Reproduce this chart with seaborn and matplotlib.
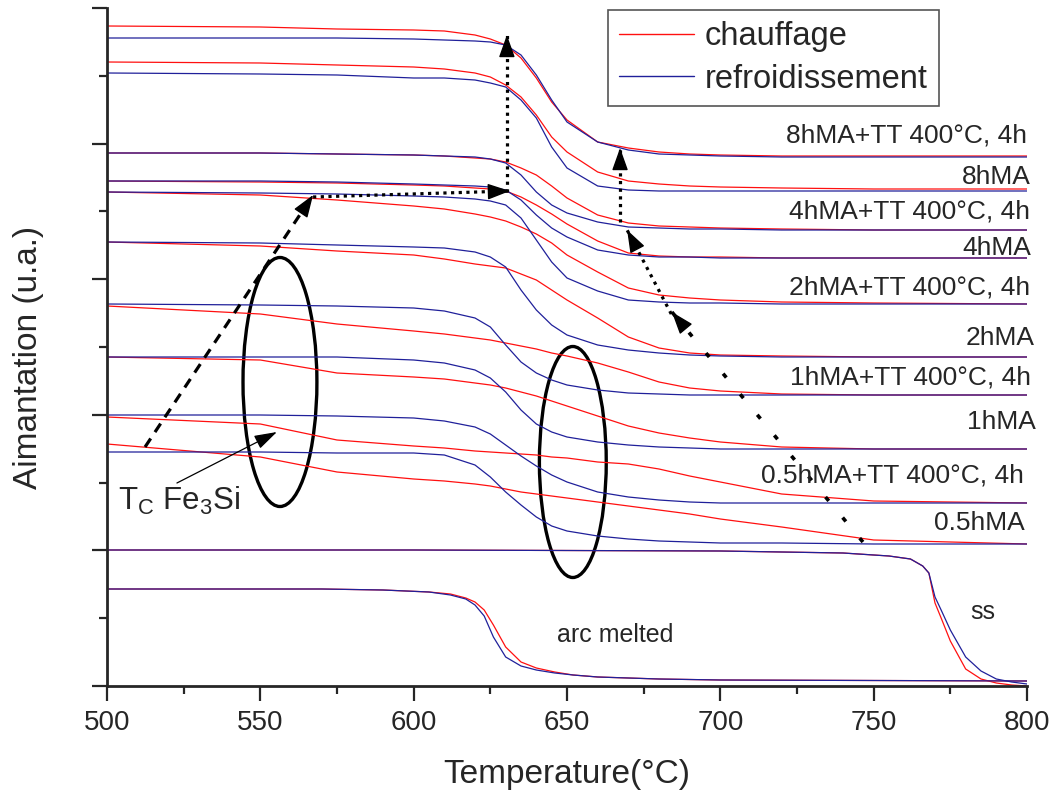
import numpy as np
import pandas as pd
import matplotlib
matplotlib.use("Agg")
import matplotlib.pyplot as plt
from matplotlib.lines import Line2D
from matplotlib.patches import Ellipse
import seaborn as sns

# temperature grid (°C) used for the milled samples
temp = [500, 550, 575, 600, 610, 620, 625, 630, 635, 640, 645, 650, 660, 670, 680, 690, 700, 720, 750, 800]

# magnetisation (u.a.): heating (chauffage) / cooling (refroidissement)
heat_8tt = [660, 659, 657, 656, 655, 651, 647, 641, 628, 608, 584, 566, 544, 538, 534, 532, 531, 530, 530, 530]
cool_8tt = [648, 648, 648, 647, 646, 645, 644, 641, 631, 611, 586, 564, 544, 536, 532, 531, 530, 529, 529, 529]
heat_8 = [624, 623, 621, 619, 617, 613, 609, 601, 589, 571, 549, 534, 514, 505, 502, 500, 499, 498, 497, 497]
cool_8 = [613, 612, 611, 608, 608, 606, 603, 599, 586, 568, 539, 518, 500, 496, 495, 495, 495, 495, 495, 495]
heat_4tt = [533, 533, 532, 531, 530, 528, 527, 524, 518, 511, 500, 488, 471, 463, 460, 459, 458, 457, 456, 456]
cool_4tt = [533, 533, 532, 531, 530, 529, 527, 523, 511, 494, 481, 473, 464, 459, 458, 457, 457, 456, 456, 456]
heat_4 = [505, 504, 503, 501, 500, 498, 497, 495, 489, 481, 472, 462, 445, 433, 430, 429, 429, 428, 428, 428]
cool_4 = [505, 505, 504, 502, 501, 500, 499, 496, 486, 471, 458, 449, 436, 431, 429, 429, 428, 428, 428, 428]
heat_2tt = [494, 491, 486, 480, 477, 472, 469, 465, 459, 452, 443, 431, 414, 398, 391, 388, 386, 384, 383, 382]
cool_2tt = [494, 493, 492, 490, 489, 487, 485, 481, 468, 446, 424, 408, 395, 386, 384, 383, 383, 382, 382, 382]
heat_2 = [444, 440, 435, 431, 427, 422, 420, 418, 412, 406, 396, 386, 368, 349, 338, 333, 331, 330, 329, 329]
cool_2 = [444, 443, 441, 439, 438, 434, 429, 419, 396, 376, 361, 351, 341, 336, 333, 331, 330, 329, 329, 329]
heat_1tt = [380, 372, 362, 355, 352, 348, 346, 343, 340, 337, 333, 330, 323, 314, 304, 298, 295, 292, 291, 291]
cool_1tt = [382, 381, 380, 378, 375, 368, 359, 341, 324, 313, 306, 301, 296, 293, 292, 291, 291, 291, 291, 291]
heat_1 = [329, 326, 313, 309, 307, 303, 301, 298, 294, 290, 285, 280, 270, 260, 253, 248, 244, 239, 237, 237]
cool_1 = [329, 329, 329, 326, 323, 316, 308, 294, 276, 262, 254, 249, 244, 241, 239, 238, 237, 237, 237, 237]
heat_05tt = [269, 262, 246, 240, 238, 235, 234, 233, 232, 231, 229, 228, 224, 222, 217, 210, 204, 192, 185, 183]
cool_05tt = [271, 271, 270, 268, 265, 259, 252, 241, 230, 220, 211, 204, 194, 189, 186, 184, 183, 183, 183, 183]
heat_05 = [242, 229, 214, 207, 205, 202, 200, 197, 194, 192, 190, 188, 184, 180, 176, 172, 167, 159, 146, 142]
cool_05 = [234, 234, 233, 233, 231, 221, 209, 194, 181, 169, 160, 155, 150, 147, 145, 144, 143, 143, 142, 142]

# solid solution (ss)
temp_ss = [500, 600, 700, 740, 755, 762, 766, 768, 770, 772, 775, 780, 785, 790, 795, 800]
heat_ss = [136, 136, 135, 133, 130, 127, 120, 113, 83, 68, 45, 17, 7, 3, 1, 0]
cool_ss = [136, 136, 135, 133, 130, 127, 120, 113, 89, 76, 56, 29, 15, 7, 4, 2]

# arc melted
temp_arc = [500, 570, 590, 605, 612, 617, 620, 623, 626, 630, 635, 640, 646, 652, 660, 680, 700, 800]
heat_arc = [97, 97, 96, 94, 92, 88, 84, 76, 61, 39, 24, 18, 14, 11, 9, 7, 6, 5]
cool_arc = [97, 97, 96, 94, 91, 87, 81, 70, 49, 29, 20, 16, 13, 11, 9, 7, 6, 5]

labels = ['8hMA+TT 400°C, 4h', '8hMA', '4hMA+TT 400°C, 4h', '4hMA', '2hMA+TT 400°C, 4h',
          '2hMA', '1hMA+TT 400°C, 4h', '1hMA', '0.5hMA+TT 400°C, 4h', '0.5hMA']
label_x = [800.0, 801.3, 801.0, 801.3, 801.0, 802.6, 801.3, 802.9, 799.0, 799.3]
label_y = [551, 509, 474, 438, 398, 348, 309, 264, 211, 163]

curves = [
    ('8tt', temp, heat_8tt, cool_8tt), ('8', temp, heat_8, cool_8),
    ('4tt', temp, heat_4tt, cool_4tt), ('4', temp, heat_4, cool_4),
    ('2tt', temp, heat_2tt, cool_2tt), ('2', temp, heat_2, cool_2),
    ('1tt', temp, heat_1tt, cool_1tt), ('1', temp, heat_1, cool_1),
    ('05tt', temp, heat_05tt, cool_05tt), ('05', temp, heat_05, cool_05),
    ('ss', temp_ss, heat_ss, cool_ss), ('arc', temp_arc, heat_arc, cool_arc),
]

rows = []
for name, t, h, c in curves:
    rows += [(x, y, 'chauffage', name) for x, y in zip(t, h)]
    rows += [(x, y, 'refroidissement', name + '_c') for x, y in zip(t, c)]
df = pd.DataFrame(rows, columns=['T', 'M', 'mode', 'sample'])

RED = '#ff1010'
BLUE = '#20209a'

sns.set_style('ticks')
plt.rcParams['font.family'] = ['Liberation Sans', 'DejaVu Sans']

fig, ax = plt.subplots(figsize=(10.54, 7.93), dpi=100)
fig.subplots_adjust(left=107/1054, right=1027/1054, bottom=1-686/793, top=1-8/793)

sns.lineplot(data=df, x='T', y='M', hue='mode', units='sample', estimator=None,
             palette={'chauffage': RED, 'refroidissement': BLUE},
             hue_order=['chauffage', 'refroidissement'], lw=0.9, sort=False,
             legend=False, ax=ax)

ax.set_xlim(500, 800)
ax.set_ylim(0, 678)
ax.set_xticks(np.arange(500, 801, 50))
ax.set_xticks(np.arange(525, 800, 50), minor=True)
ax.set_yticks(np.linspace(0, 678, 6))
ax.set_yticks(np.linspace(67.8, 610.2, 5), minor=True)
ax.tick_params(which='major', length=11, width=1.6, direction='out', labelsize=20, pad=6)
ax.tick_params(which='minor', length=5.5, width=1.6, direction='out')
ax.tick_params(axis='y', labelleft=False)
sns.despine(ax=ax)
for s in ['left', 'bottom']:
    ax.spines[s].set_linewidth(2)

ax.set_xlabel('Temperature(°C)', fontsize=24)
ax.set_ylabel('Aimantation (u.a.)', fontsize=24)
ax.xaxis.set_label_coords(0.5, -0.107)
ax.yaxis.set_label_coords(-0.068, 0.485)

for lab, x, y in zip(labels, label_x, label_y):
    ax.text(x, y, lab, ha='right', va='center', fontsize=19)
ax.text(665.6, 51, 'arc melted', ha='center', va='center', fontsize=18)
ax.text(785.6, 74, 'ss', ha='center', va='center', fontsize=18)
ax.text(503.6, 176, r'T$_\mathregular{C}$ Fe$_\mathregular{3}$Si', ha='left', va='baseline', fontsize=22.5)

# ellipses around the transitions
ax.add_patch(Ellipse((556.4, 304), 24.1, 249, fill=False, lw=2.4, ec='black'))
ax.add_patch(Ellipse((651.9, 224), 21.8, 231, fill=False, lw=2.4, ec='black'))


def arrow(start, end, dashes, lw, head=0.7):
    ax.plot([start[0], end[0]], [start[1], end[1]], color='black', lw=lw, dashes=dashes,
            dash_capstyle='butt')
    p0 = ax.transData.transform(start)
    p1 = ax.transData.transform(end)
    d = (p1 - p0) / np.hypot(*(p1 - p0))
    back = ax.transData.inverted().transform(p1 - d * 14)
    ax.annotate('', xy=end, xytext=back,
                arrowprops=dict(arrowstyle=f'-|>,head_length={head},head_width=0.25',
                                color='black', lw=1, shrinkA=0, shrinkB=0, mutation_scale=20))


arrow((512.4, 239), (567.2, 491), (3.2, 2.4), 2.3)
arrow((567.2, 489), (631.4, 495), (1.0, 1.4), 2.3)
arrow((630.4, 494), (630.4, 651), (1.0, 1.4), 2.3)
arrow((746.5, 144), (684.2, 374), (1.4, 6.0), 2.6)
arrow((684.0, 372), (669.6, 456), (1.0, 1.6), 2.3)
arrow((667.3, 464), (667.3, 538), (1.0, 1.4), 2.3)
ax.annotate('', xy=(555.4, 254), xytext=(522.8, 203),
            arrowprops=dict(arrowstyle='-|>,head_length=0.7,head_width=0.22', color='black',
                            lw=0.9, shrinkA=0, shrinkB=0, mutation_scale=20))

handles = [Line2D([], [], color=RED, lw=1), Line2D([], [], color=BLUE, lw=1)]
leg = ax.legend(handles, ['chauffage', 'refroidissement'], loc='upper left',
                bbox_to_anchor=(608/1054, 1-10/793), bbox_transform=fig.transFigure,
                borderaxespad=0, fancybox=False, edgecolor='#555555', framealpha=1,
                fontsize=23.5, handlelength=2.27, handletextpad=0.34, labelspacing=0.35,
                borderpad=0.35)
leg.get_frame().set_linewidth(1.2)

fig.savefig('out.png', dpi=100)
